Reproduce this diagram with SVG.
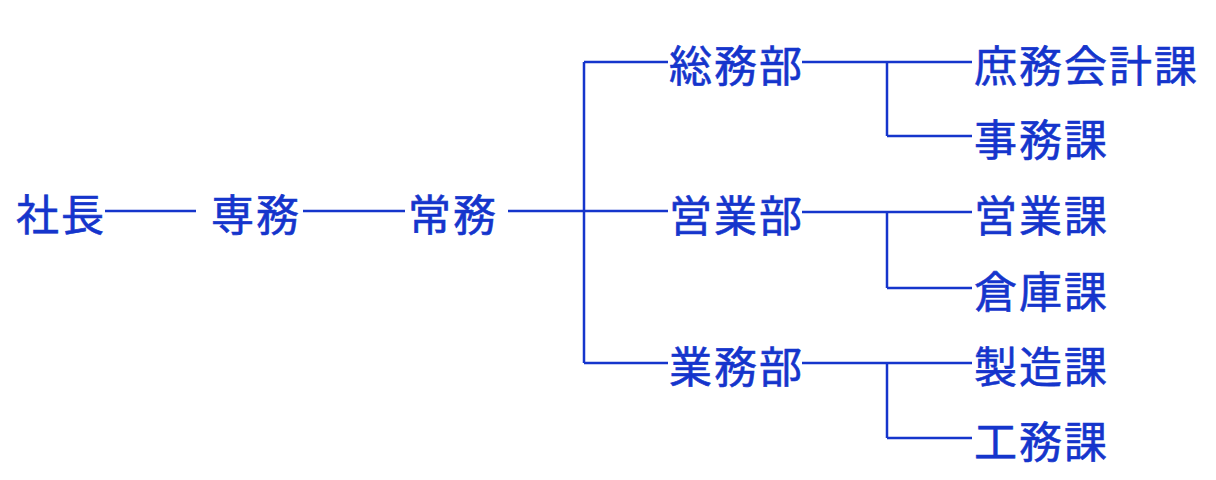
<svg xmlns="http://www.w3.org/2000/svg" width="1216" height="480" viewBox="0 0 1216 480">
<style>
text{font-family:"Noto Sans CJK JP","Noto Sans CJK SC",sans-serif;font-size:43px;fill:#1535cc;stroke:#1535cc;stroke-width:0.6;letter-spacing:2px;dominant-baseline:central}
.c line{stroke:#1535cc;stroke-width:2.5;fill:none}
</style>
<rect width="1216" height="480" fill="#fff"/>
<g class="c" id="connectors">
<line x1="105" y1="211" x2="196" y2="211"/>
<line x1="303" y1="211" x2="405" y2="211"/>
<line x1="508" y1="211" x2="668" y2="211"/>
<line x1="584" y1="62" x2="584" y2="363"/>
<line x1="584" y1="62" x2="668" y2="62"/>
<line x1="584" y1="363" x2="668" y2="363"/>
<line x1="802" y1="62" x2="972" y2="62"/>
<line x1="887" y1="62" x2="887" y2="136"/>
<line x1="887" y1="136" x2="972" y2="136"/>
<line x1="802" y1="212" x2="972" y2="212"/>
<line x1="887" y1="212" x2="887" y2="288"/>
<line x1="887" y1="288" x2="972" y2="288"/>
<line x1="802" y1="363" x2="972" y2="363"/>
<line x1="887" y1="363" x2="887" y2="438"/>
<line x1="887" y1="438" x2="972" y2="438"/>
</g>
<g id="shacho"><text x="16" y="212">社長</text></g>
<g id="senmu"><text x="211" y="212">専務</text></g>
<g id="jomu"><text x="408" y="212">常務</text></g>
<g id="somubu"><text x="669" y="63">総務部</text></g>
<g id="eigyobu"><text x="669" y="213">営業部</text></g>
<g id="gyomubu"><text x="669" y="364">業務部</text></g>
<g id="shomukaikeika"><text x="974" y="63">庶務会計課</text></g>
<g id="jimuka"><text x="974" y="137">事務課</text></g>
<g id="eigyoka"><text x="974" y="213">営業課</text></g>
<g id="sokoka"><text x="974" y="289">倉庫課</text></g>
<g id="seizoka"><text x="974" y="364">製造課</text></g>
<g id="komuka"><text x="974" y="439">工務課</text></g>
</svg>
